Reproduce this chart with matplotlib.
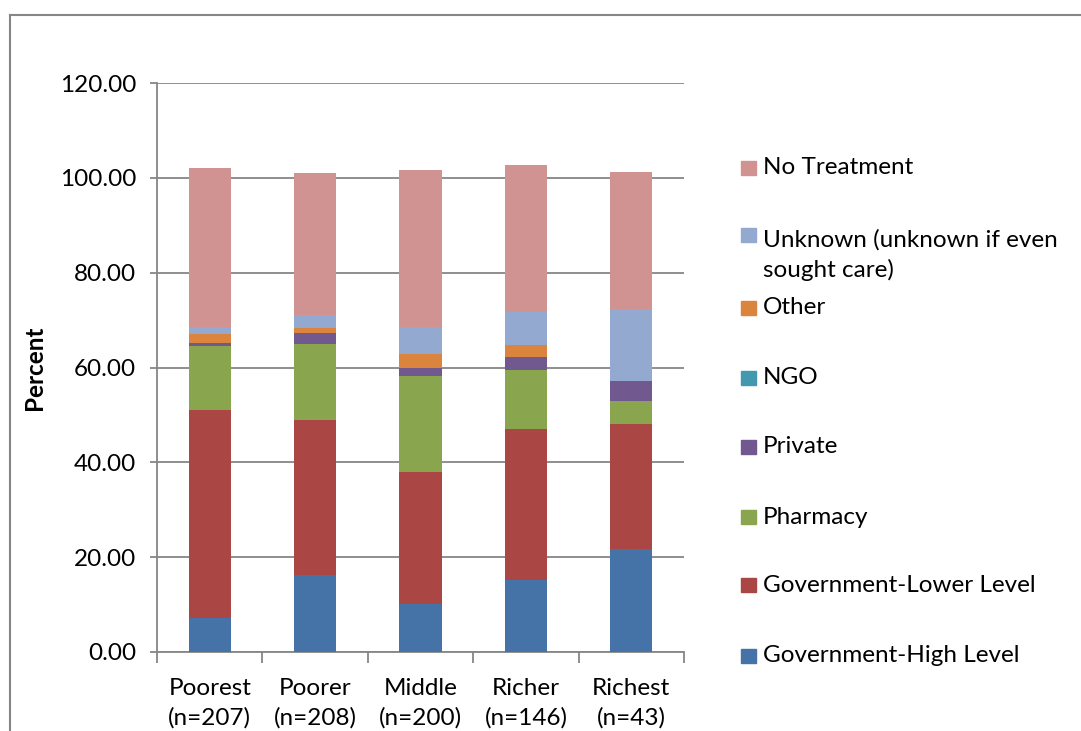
import matplotlib.pyplot as plt
import numpy as np
from matplotlib.lines import Line2D
from matplotlib.patches import Rectangle

plt.rcParams['font.family'] = ['Lato', 'DejaVu Sans']

# categories and values (percent), bottom to top of the stack
groups = ['Poorest\n(n=207)', 'Poorer\n(n=208)', 'Middle\n(n=200)', 'Richer\n(n=146)', 'Richest\n(n=43)']
series = ['Government-High Level', 'Government-Lower Level', 'Pharmacy', 'Private',
          'NGO', 'Other', 'Unknown (unknown if even\nsought care)', 'No Treatment']
gov_high = [7.2, 16.3, 10.1, 15.1, 21.8]
gov_low = [43.8, 32.6, 27.9, 31.9, 26.2]
pharmacy = [13.6, 16.0, 20.3, 12.4, 4.9]
private = [0.6, 2.3, 1.5, 2.8, 4.3]
ngo = [0.0, 0.0, 0.0, 0.0, 0.0]
other = [1.9, 1.1, 3.0, 2.5, 0.0]
unknown = [1.5, 2.7, 5.7, 7.0, 15.1]
no_treat = [33.5, 30.1, 33.2, 31.0, 29.0]
values = [gov_high, gov_low, pharmacy, private, ngo, other, unknown, no_treat]
colors = ['#4572A7', '#AA4643', '#89A54E', '#71588F', '#4198AF', '#DB843D', '#93A9CF', '#D19392']

W, H = 1081, 731
grid_c = '#868686'
fs = 17.5
fig = plt.figure(figsize=(W/100, H/100), dpi=100)
ax = fig.add_axes([157/W, 1-652/H, (684-157)/W, (652-83)/H])

x = np.arange(len(groups))
bottom = np.zeros(len(groups))
for vals, col in zip(values, colors):
    ax.bar(x, vals, 0.4, bottom=bottom, color=col, zorder=3)
    bottom += np.array(vals)

ax.set_xlim(-0.5, len(groups)-0.5)
ax.set_ylim(0, 120)
ax.set_yticks(np.arange(0, 121, 20))
ax.set_yticklabels(['%.2f' % v for v in np.arange(0, 121, 20)], fontsize=fs)
ax.yaxis.grid(True, color=grid_c, lw=1.3, zorder=0)
ax.set_xticks(x)
ax.set_xticklabels(groups, fontsize=fs, linespacing=1.45)
ax.set_xticks(np.arange(-0.5, len(groups), 1), minor=True)
ax.tick_params(axis='x', which='major', length=0, pad=19)
ax.tick_params(axis='x', which='minor', length=8, color=grid_c, width=1.3)
ax.tick_params(axis='y', length=5, color=grid_c, width=1.3, pad=10)
for s in ['top', 'right']:
    ax.spines[s].set_visible(False)
for s in ['left', 'bottom']:
    ax.spines[s].set_color(grid_c)
    ax.spines[s].set_linewidth(1.3)
ax.set_ylabel('Percent', fontsize=fs, fontweight='bold', labelpad=10)

# legend, drawn top to bottom like the original
leg_y = [168, 240, 308, 378, 447, 517, 585, 656]
for name, col, yy in zip(series[::-1], colors[::-1], leg_y):
    sq_y = yy - 5 if '\n' in name else yy
    fig.add_artist(Rectangle((741/W, 1-(sq_y+7)/H), 15/W, 14/H, color=col, transform=fig.transFigure))
    ty = yy + 15 if '\n' in name else yy
    fig.text(763/W, 1-ty/H, name, fontsize=fs, va='center', linespacing=1.45)

# outer chart border
fig.add_artist(Line2D([10/W, 10/W], [0, 1-15/H], color=grid_c, lw=1.5))
fig.add_artist(Line2D([10/W, 1], [1-15/H, 1-15/H], color=grid_c, lw=1.5))

fig.savefig('out.png', dpi=100)
